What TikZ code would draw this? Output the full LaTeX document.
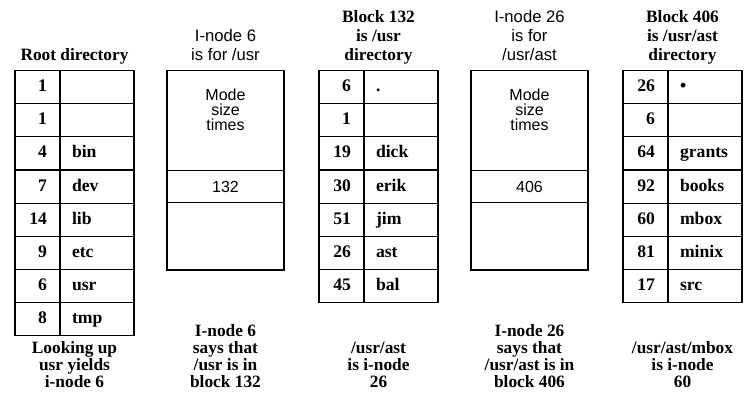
\documentclass[tikz,border=0pt]{standalone}
\usepackage{fontspec}
\setmainfont{Liberation Serif}
\setsansfont{Liberation Sans}
\usetikzlibrary{positioning}

\begin{document}
\begin{tikzpicture}[x=0.75pt, y=-0.75pt, node distance=0pt,
  every node/.style={inner sep=0pt, outer sep=0pt},
  numcell/.style={draw, line width=0.8pt, minimum height=24.825pt, text width=14.25pt, text height=0.9em, text depth=0.22em, inner xsep=9.75pt, align=right, font=\fontsize{13.25}{14}\selectfont\bfseries},
  namecell/.style={draw, line width=0.8pt, minimum height=24.825pt, text width=37.5pt, text height=0.9em, text depth=0.22em, inner xsep=9pt, align=left, font=\fontsize{13.25}{14}\selectfont\bfseries},
  toplabel/.style={anchor=south, align=center, text depth=0pt, font=\fontsize{13}{14.25}\selectfont\bfseries},
  botlabel/.style={anchor=south, align=center, text depth=0pt, font=\fontsize{13}{12.6}\selectfont\bfseries},
  inodelabel/.style={anchor=south, align=center, text depth=0pt, font=\fontsize{12.5}{14.25}\selectfont\sffamily},
  inodepart/.style={draw, line width=1.1pt, minimum width=87.75pt, align=center, font=\fontsize{12}{11.25}\selectfont\sffamily}]
\useasboundingbox (0,0) rectangle (747,400);

% root directory
\node[toplabel] (root-head) at (74.5,60) {Root directory};
\foreach \num/\name [count=\i from 0] in {1/{},1/{},4/bin,7/dev,14/lib,9/etc,6/usr,8/tmp} {
  \node[numcell, anchor=north west] (root-n\i) at (15,{70.7+33.1*\i}) {\num};
  \node[namecell, right=of root-n\i] (root-t\i) {\name};
}
\node[botlabel] (root-foot) at (74.5,387) {Looking up\\usr yields\\i-node 6};

% i-node 6
\node[inodelabel] (in6-head) at (225.5,60) {I-node 6\\is for /usr};
\node[inodepart, anchor=north west, minimum height=75pt] (in6-mode) at (167,70.7) {};
\node[inodepart, below=of in6-mode, minimum height=24pt] (in6-zone) {132};
\node[inodepart, below=of in6-zone, minimum height=50.5pt] (in6-rest) {};
\node[align=center, font=\fontsize{12}{11.25}\selectfont\sffamily] (in6-fields) at ([yshift=8pt]in6-mode.center) {Mode\\size\\times};
\node[botlabel] (in6-foot) at (225.5,387) {I-node 6\\says that\\/usr is in\\block 132};

% block 132
\node[toplabel] (blk132-head) at (378.5,60) {Block 132\\is /usr\\directory};
\foreach \num/\name [count=\i from 0] in {6/.,1/{},19/dick,30/erik,51/jim,26/ast,45/bal} {
  \node[numcell, anchor=north west] (blk132-n\i) at (319,{70.7+33.1*\i}) {\num};
  \node[namecell, right=of blk132-n\i] (blk132-t\i) {\name};
}
\node[botlabel] (blk132-foot) at (378.5,387) {/usr/ast\\is i-node\\26};

% i-node 26
\node[inodelabel] (in26-head) at (529.5,60) {I-node 26\\is for\\/usr/ast};
\node[inodepart, anchor=north west, minimum height=75pt] (in26-mode) at (471,70.7) {};
\node[inodepart, below=of in26-mode, minimum height=24pt] (in26-zone) {406};
\node[inodepart, below=of in26-zone, minimum height=50.5pt] (in26-rest) {};
\node[align=center, font=\fontsize{12}{11.25}\selectfont\sffamily] (in26-fields) at ([yshift=8pt]in26-mode.center) {Mode\\size\\times};
\node[botlabel] (in26-foot) at (529.5,387) {I-node 26\\says that\\/usr/ast is in\\block 406};

% block 406
\node[toplabel] (blk406-head) at (682.5,60) {Block 406\\is /usr/ast\\directory};
\foreach \num/\name [count=\i from 0] in {26/\textbullet,6/{},64/grants,92/books,60/mbox,81/minix,17/src} {
  \node[numcell, anchor=north west] (blk406-n\i) at (623,{70.7+33.1*\i}) {\num};
  \node[namecell, right=of blk406-n\i] (blk406-t\i) {\name};
}
\node[botlabel] (blk406-foot) at (682.5,387) {/usr/ast/mbox\\is i-node\\60};
\end{tikzpicture}
\end{document}
